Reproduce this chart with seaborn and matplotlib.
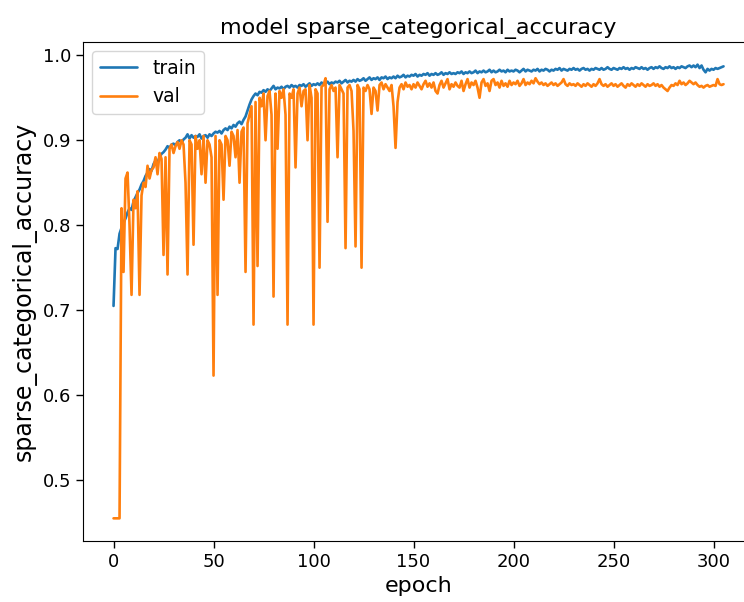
import numpy as np
import matplotlib
matplotlib.use("Agg")
import matplotlib.pyplot as plt
import seaborn as sns

## per-epoch accuracy (epochs 0..305)
train_acc = [
    0.705, 0.773, 0.772, 0.790, 0.797, 0.803, 0.808, 0.815, 0.820, 0.818,
    0.828, 0.833, 0.838, 0.842, 0.848, 0.852, 0.858, 0.862, 0.866, 0.864,
    0.872, 0.876, 0.874, 0.880, 0.884, 0.886, 0.889, 0.893, 0.891, 0.895,
    0.896, 0.894, 0.898, 0.900, 0.897, 0.901, 0.903, 0.907, 0.902, 0.906,
    0.903, 0.905, 0.904, 0.907, 0.902, 0.905, 0.906, 0.903, 0.907, 0.905,
    0.908, 0.910, 0.909, 0.911, 0.908, 0.912, 0.914, 0.912, 0.916, 0.914,
    0.918, 0.916, 0.920, 0.922, 0.919, 0.924, 0.928, 0.935, 0.942, 0.948,
    0.952, 0.955, 0.953, 0.957, 0.956, 0.959, 0.957, 0.960, 0.958, 0.961,
    0.964, 0.960, 0.962, 0.961, 0.963, 0.960, 0.963, 0.964, 0.962, 0.965,
    0.963, 0.964, 0.962, 0.965, 0.964, 0.966, 0.963, 0.965, 0.967, 0.964,
    0.966, 0.965, 0.967, 0.965, 0.968, 0.966, 0.967, 0.969, 0.966, 0.968,
    0.967, 0.969, 0.968, 0.970, 0.967, 0.969, 0.971, 0.968, 0.970, 0.969,
    0.971, 0.969, 0.972, 0.970, 0.971, 0.973, 0.970, 0.972, 0.974, 0.971,
    0.973, 0.972, 0.974, 0.971, 0.974, 0.973, 0.975, 0.972, 0.974, 0.973,
    0.975, 0.973, 0.976, 0.974, 0.975, 0.977, 0.974, 0.976, 0.975, 0.977,
    0.976, 0.978, 0.975, 0.977, 0.976, 0.978, 0.977, 0.979, 0.976, 0.978,
    0.977, 0.979, 0.977, 0.978, 0.980, 0.977, 0.979, 0.978, 0.980, 0.978,
    0.979, 0.978, 0.980, 0.979, 0.981, 0.978, 0.980, 0.979, 0.981, 0.979,
    0.980, 0.982, 0.979, 0.981, 0.980, 0.982, 0.980, 0.981, 0.983, 0.980,
    0.982, 0.980, 0.981, 0.983, 0.981, 0.982, 0.980, 0.983, 0.981, 0.982,
    0.981, 0.983, 0.982, 0.980, 0.982, 0.984, 0.981, 0.983, 0.982, 0.981,
    0.983, 0.982, 0.984, 0.981, 0.983, 0.982, 0.984, 0.983, 0.981, 0.983,
    0.982, 0.984, 0.983, 0.985, 0.982, 0.984, 0.983, 0.982, 0.984, 0.983,
    0.985, 0.983, 0.984, 0.982, 0.984, 0.985, 0.983, 0.984, 0.982, 0.984,
    0.983, 0.985, 0.984, 0.983, 0.985, 0.983, 0.984, 0.986, 0.984, 0.983,
    0.985, 0.984, 0.983, 0.985, 0.984, 0.986, 0.984, 0.985, 0.983, 0.985,
    0.984, 0.986, 0.985, 0.984, 0.986, 0.984, 0.985, 0.983, 0.985, 0.986,
    0.984, 0.986, 0.985, 0.987, 0.985, 0.984, 0.986, 0.985, 0.987, 0.985,
    0.986, 0.984, 0.986, 0.985, 0.987, 0.986, 0.985, 0.987, 0.988, 0.986,
    0.988, 0.986, 0.989, 0.985, 0.988, 0.983, 0.980, 0.984, 0.982, 0.984,
    0.983, 0.985, 0.984, 0.985, 0.986, 0.987,
]

val_acc = [
    0.455, 0.455, 0.455, 0.455, 0.820, 0.745, 0.855, 0.862, 0.800, 0.718,
    0.830, 0.820, 0.840, 0.718, 0.835, 0.850, 0.845, 0.870, 0.855, 0.865,
    0.868, 0.880, 0.860, 0.885, 0.878, 0.765, 0.880, 0.742, 0.890, 0.895,
    0.885, 0.893, 0.898, 0.890, 0.900, 0.895, 0.850, 0.742, 0.900, 0.895,
    0.777, 0.905, 0.890, 0.900, 0.860, 0.905, 0.850, 0.900, 0.895, 0.880,
    0.623, 0.905, 0.718, 0.900, 0.895, 0.830, 0.905, 0.900, 0.870, 0.910,
    0.905, 0.880, 0.912, 0.850, 0.910, 0.915, 0.745, 0.920, 0.930, 0.940,
    0.683, 0.945, 0.752, 0.950, 0.940, 0.955, 0.900, 0.952, 0.958, 0.930,
    0.716, 0.955, 0.890, 0.958, 0.950, 0.960, 0.930, 0.683, 0.955, 0.950,
    0.960, 0.868, 0.955, 0.962, 0.940, 0.958, 0.960, 0.900, 0.965, 0.950,
    0.683, 0.960, 0.955, 0.750, 0.963, 0.965, 0.973, 0.804, 0.960, 0.965,
    0.958, 0.962, 0.880, 0.965, 0.960, 0.955, 0.773, 0.962, 0.965, 0.958,
    0.911, 0.775, 0.965, 0.960, 0.750, 0.962, 0.958, 0.965, 0.960, 0.931,
    0.962, 0.958, 0.935, 0.965, 0.968, 0.960, 0.966, 0.962, 0.958, 0.965,
    0.940, 0.891, 0.945, 0.962, 0.966, 0.960, 0.968, 0.963, 0.965, 0.960,
    0.966, 0.962, 0.968, 0.964, 0.960, 0.966, 0.970, 0.963, 0.967, 0.962,
    0.968, 0.958, 0.955, 0.965, 0.970, 0.962, 0.967, 0.972, 0.960, 0.966,
    0.963, 0.968, 0.964, 0.962, 0.970, 0.958, 0.966, 0.972, 0.962, 0.968,
    0.965, 0.970, 0.962, 0.950, 0.968, 0.972, 0.964, 0.967, 0.958, 0.970,
    0.972, 0.965, 0.968, 0.962, 0.970, 0.964, 0.967, 0.963, 0.970, 0.965,
    0.968, 0.966, 0.970, 0.964, 0.967, 0.972, 0.965, 0.968, 0.966, 0.970,
    0.967, 0.973, 0.969, 0.966, 0.968, 0.965, 0.967, 0.964, 0.966, 0.968,
    0.965, 0.967, 0.964, 0.966, 0.968, 0.972, 0.966, 0.964, 0.967, 0.965,
    0.966, 0.964, 0.967, 0.965, 0.963, 0.966, 0.964, 0.967, 0.965, 0.963,
    0.966, 0.964, 0.967, 0.972, 0.966, 0.964, 0.966, 0.963, 0.965, 0.967,
    0.964, 0.966, 0.963, 0.965, 0.967, 0.964, 0.962, 0.966, 0.964, 0.967,
    0.965, 0.963, 0.966, 0.964, 0.967, 0.965, 0.963, 0.966, 0.964, 0.965,
    0.967, 0.964, 0.966, 0.963, 0.965, 0.962, 0.960, 0.958, 0.962, 0.965,
    0.964, 0.967, 0.965, 0.970, 0.966, 0.968, 0.965, 0.967, 0.970, 0.968,
    0.966, 0.968, 0.965, 0.963, 0.964, 0.962, 0.964, 0.965, 0.963, 0.964,
    0.965, 0.964, 0.972, 0.966, 0.965, 0.966,
]

assert len(train_acc) == len(val_acc) == 306
epochs = np.arange(len(train_acc))

# plain matplotlib look: black text, black frame, no grid
sns.set_style("ticks", {"text.color": "black", "axes.labelcolor": "black",
                        "xtick.color": "black", "ytick.color": "black",
                        "axes.edgecolor": "black"})
plt.rcParams["font.family"] = ["DejaVu Sans"]

fig = plt.figure(figsize=(7.44, 6.02), dpi=100)
# axes runs past the right edge, as in the cropped original
ax = fig.add_axes([0.1116, 0.1013, 0.9019, 0.829])

sns.lineplot(x=epochs, y=train_acc, ax=ax, color="#1f77b4", linewidth=1.9, label="train")
sns.lineplot(x=epochs, y=val_acc, ax=ax, color="#ff7f0e", linewidth=1.9, label="val")

ax.set_title("model sparse_categorical_accuracy", fontsize=16)
ax.set_xlabel("epoch", fontsize=16)
ax.set_ylabel("sparse_categorical_accuracy", fontsize=17)
ax.tick_params(labelsize=13, length=5, width=1)
ax.set_xticks([0, 50, 100, 150, 200, 250, 300])
ax.spines["right"].set_visible(False)
ax.legend(loc="upper left", fontsize=13.5, frameon=True)

fig.savefig("out.png", dpi=100)
